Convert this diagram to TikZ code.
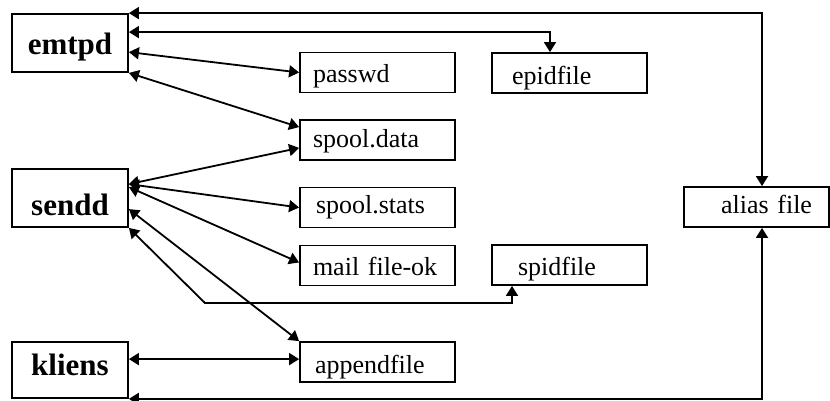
\documentclass[tikz,border=0pt]{standalone}
\usepackage{fontspec}
\setmainfont{Liberation Serif}
\usetikzlibrary{positioning, calc, arrows.meta}
\tikzset{
  % Daemon boxes (left) and file boxes (right)
  daemonbox/.style = { draw, line width=1.8pt, minimum width=116pt, minimum height=58pt,
                       inner sep=0pt, font=\fontsize{31}{36}\selectfont\bfseries,
                       text depth=8pt, text height=32pt },
  filebox/.style   = { draw, line width=1.8pt, minimum width=155pt, minimum height=40pt,
                       inner ysep=0pt, font=\fontsize{26}{30}\selectfont, align=left,
                       text depth=7pt, text height=27pt,
                       inner xsep=#1, text width={155pt-2*#1} },
  link/.style      = { line width=1.8pt,
                       {Triangle[length=10pt,width=12pt]}-{Triangle[length=10pt,width=12pt]} }
}

\begin{document}
\begin{tikzpicture}[x=1pt, y=-1pt]
  \useasboundingbox (0,0) rectangle (830,401);

  % --- Daemons ------------------------------------------------------
  \node[daemonbox] (emtpd)  at (70,43)  {emtpd};
  \node[daemonbox, text height=42pt] (sendd) at (70,198) {sendd};
  \node[daemonbox, minimum height=56pt, text height=18pt] (kliens) at (70,370) {kliens};

  % --- Files --------------------------------------------------------
  \node[filebox=13pt] (passwd) at (377.5,72.5) {passwd};
  \node[filebox=13pt, text height=21pt] (sdata)  at (377.5,140)   {spool.data};
  \node[filebox=16pt, text height=18pt] (sstats) at (377.5,207.5) {spool.stats};
  \node[filebox=13pt] (mail)   at (377.5,265.5) {mail file-ok};
  \node[filebox=15pt, text height=29pt] (append) at (377.5,362)   {appendfile};
  \node[filebox=20pt, text height=31pt] (epid)   at (569.5,73)    {epidfile};
  \node[filebox=26pt] (spid)   at (569.5,265)   {spidfile};
  \node[filebox=17pt, minimum width=145pt, text width=111pt, align=right,
        text height=19pt] (alias) at (756.5,207) {alias file};

  \coordinate (bend) at (205,303);

  % --- Connectors ---------------------------------------------------
  \draw[link] (emtpd.north east) -| ([xshift=5.5]alias.north);
  \draw[link] ([yshift=-19]emtpd.north east) -| ([xshift=-19.5]epid.north);
  \draw[link] ([yshift=-39]emtpd.north east) -- (passwd.west);
  \draw[link] (emtpd.south east) -- ([yshift=-8]sdata.north west);

  \draw[link] ([yshift=-16]sendd.north east) -- ([yshift=13]sdata.south west);
  \draw[link] ([yshift=-16]sendd.north east) -- (sstats.west);
  \draw[link] ([yshift=-19]sendd.north east) -- ([yshift=3]mail.west);
  \draw[link] ([yshift=-41]sendd.north east) -- (append.north west);
  \draw[link] ([xshift=-57.5]spid.south) |- (bend) -- (sendd.south east);

  \draw[link] ([yshift=-18]kliens.north east) -- ([yshift=-18]append.north west);
  \draw[link] (kliens.south east) -| ([xshift=5.5]alias.south);

\end{tikzpicture}
\end{document}
